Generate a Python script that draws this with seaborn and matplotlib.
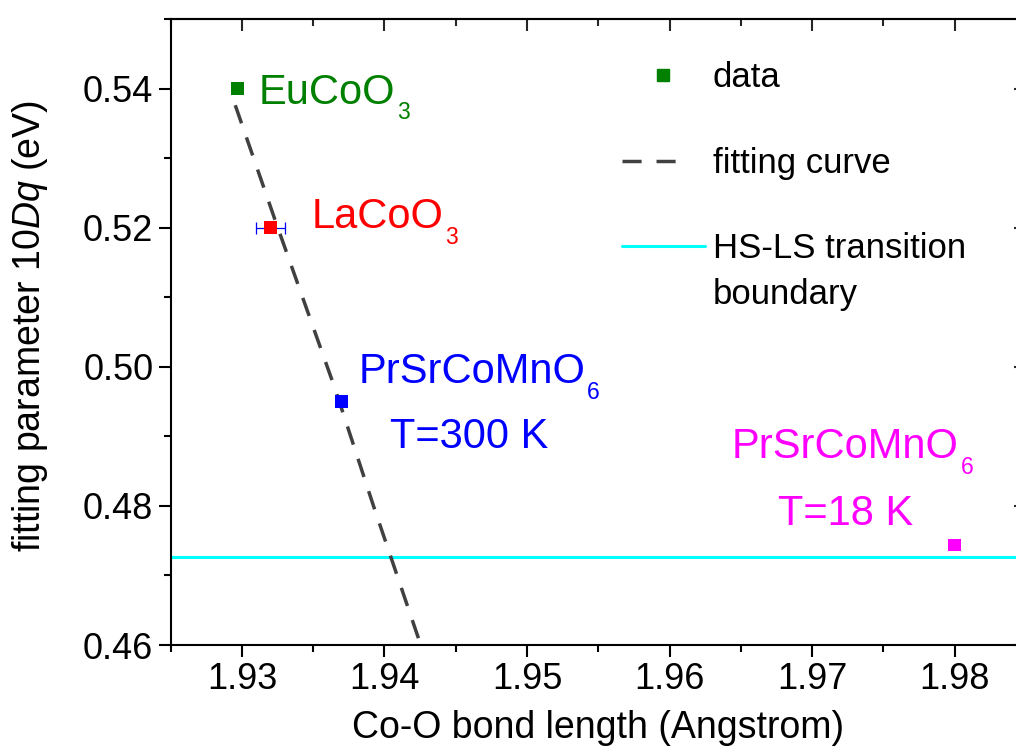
import matplotlib
matplotlib.use("Agg")
import matplotlib.pyplot as plt
from matplotlib.lines import Line2D
from matplotlib.ticker import MultipleLocator, NullFormatter
import seaborn as sns

# Crystal-field splitting vs. Co-O bond length
compounds = ["EuCoO3", "LaCoO3", "PrSrCoMnO6 300 K", "PrSrCoMnO6 18 K"]
bond_length = [1.9297, 1.9320, 1.9370, 1.9800]
ten_dq = [0.5400, 0.5200, 0.4950, 0.4744]
point_colors = ["#008000", "#FF0000", "#0000FF", "#FF00FF"]
la_bond_err = 0.001

# fitted 10Dq(r) curve
fit_r = [1.92953, 1.93234, 1.93654, 1.93921, 1.94251, 1.94280]
fit_dq = [0.5376, 0.5210, 0.4968, 0.4801, 0.4602, 0.4585]

# high-spin / low-spin transition boundary
hs_ls_boundary = 0.4727

x_ticks = [1.93, 1.94, 1.95, 1.96, 1.97, 1.98]
y_ticks = [0.46, 0.48, 0.50, 0.52, 0.54]

sns.set_theme(style="ticks")
plt.rcParams["font.family"] = ["Liberation Sans", "DejaVu Sans"]
plt.rcParams["mathtext.fontset"] = "custom"
plt.rcParams["mathtext.rm"] = "Liberation Sans"
plt.rcParams["mathtext.it"] = "Liberation Sans:italic"
plt.rcParams["mathtext.sf"] = "Liberation Sans"
plt.rcParams["text.color"] = "black"
plt.rcParams["axes.labelcolor"] = "black"

fig = plt.figure(figsize=(10.16, 7.49), dpi=100)
ax = fig.add_axes([0.16801, 0.13885, 0.84173, 0.83578])

ax.axhline(hs_ls_boundary, color="#00FFFF", lw=2.2, zorder=1)

sns.lineplot(x=fit_r, y=fit_dq, color="#404040", lw=2.5, sort=False,
             estimator=None, ax=ax, zorder=2)
ax.lines[-1].set_dashes([5.5, 4.3])

ax.errorbar(bond_length[1], ten_dq[1], xerr=la_bond_err, fmt="none",
            ecolor="#0000FF", elinewidth=0.9, capsize=4.3, capthick=0.9,
            zorder=2)

sns.scatterplot(x=bond_length, y=ten_dq, hue=compounds,
                palette=point_colors, marker="s", s=81, linewidth=0,
                legend=False, ax=ax, zorder=3)


def formula(x, y, main, sub, color):
    """Chemical formula with a lowered subscript after the main text."""
    t = ax.text(x, y, main, color=color, fontsize=30, va="baseline",
                ha="left")
    ax.annotate(sub, xy=(1, 0), xycoords=t, xytext=(1.5, -5),
                textcoords="offset points", va="baseline", ha="left",
                fontsize=16.5, color=color)
    return t


formula(1.93114, 0.53785, "EuCoO", "3", "#008000")
formula(1.93486, 0.51990, "LaCoO", "3", "#FF0000")
formula(1.93816, 0.49764, "PrSrCoMnO", "6", "#0000FF")
ax.text(1.94040, 0.48831, "T=300 K", color="#0000FF", fontsize=30,
        va="baseline", ha="left")
formula(1.96436, 0.48688, "PrSrCoMnO", "6", "#FF00FF")
ax.text(1.96761, 0.47726, "T=18 K", color="#FF00FF", fontsize=30,
        va="baseline", ha="left")

ax.set_xlim(1.925, 1.985)
ax.set_ylim(0.46, 0.55)
ax.set_xticks(x_ticks)
ax.set_yticks(y_ticks)
ax.set_xticklabels([f"{v:.2f}" for v in x_ticks])
ax.set_yticklabels([f"{v:.2f}" for v in y_ticks])
ax.xaxis.set_minor_locator(MultipleLocator(0.005))
ax.yaxis.set_minor_locator(MultipleLocator(0.01))
ax.tick_params(which="major", direction="out", length=8.5, width=1.5,
               labelsize=26, color="black", labelcolor="black", pad=4)
ax.tick_params(which="minor", direction="out", length=5, width=1.5,
               color="black")
for sp in ax.spines.values():
    sp.set_visible(True)
    sp.set_linewidth(1.5)
    sp.set_color("black")

# mirrored inward ticks on top and right
top = ax.secondary_xaxis("top")
top.xaxis.set_major_locator(MultipleLocator(0.01))
top.xaxis.set_minor_locator(MultipleLocator(0.005))
top.xaxis.set_major_formatter(NullFormatter())
top.tick_params(which="major", direction="in", length=8.5, width=1.5)
top.tick_params(which="minor", direction="in", length=5, width=1.5)
top.spines["top"].set_linewidth(1.5)
right = ax.secondary_yaxis("right")
right.yaxis.set_major_locator(MultipleLocator(0.02))
right.yaxis.set_minor_locator(MultipleLocator(0.01))
right.yaxis.set_major_formatter(NullFormatter())
right.tick_params(which="major", direction="in", length=8.5, width=1.5)
right.tick_params(which="minor", direction="in", length=5, width=1.5)

ax.set_xlabel("Co-O bond length (Angstrom)", fontsize=27, labelpad=9)
ax.set_ylabel(r"fitting parameter 10$\mathit{Dq}$ (eV)", fontsize=27)
ax.yaxis.set_label_coords(-0.141, 0.5096)

handles = [
    Line2D([], [], marker="s", color="#008000", ls="none", markersize=9),
    Line2D([], [], color="#404040", lw=2.5, dashes=[5.5, 4.3, 5.5, 30]),
    Line2D([], [], color="#00FFFF", lw=2.2),
]
leg = ax.legend(handles, ["data", "fitting curve", "HS-LS transition"],
                loc="upper left", bbox_to_anchor=(0.5277, 0.933),
                frameon=False, fontsize=25, borderpad=0, borderaxespad=0,
                handlelength=2.39, handletextpad=0.23, labelspacing=1.52,
                numpoints=1)
ax.annotate("boundary", xy=(0, 0), xycoords=leg.get_texts()[2],
            xytext=(0, -9), textcoords="offset points", va="top", ha="left",
            fontsize=25, color="black", zorder=10)

fig.savefig("out.png", dpi=100)
